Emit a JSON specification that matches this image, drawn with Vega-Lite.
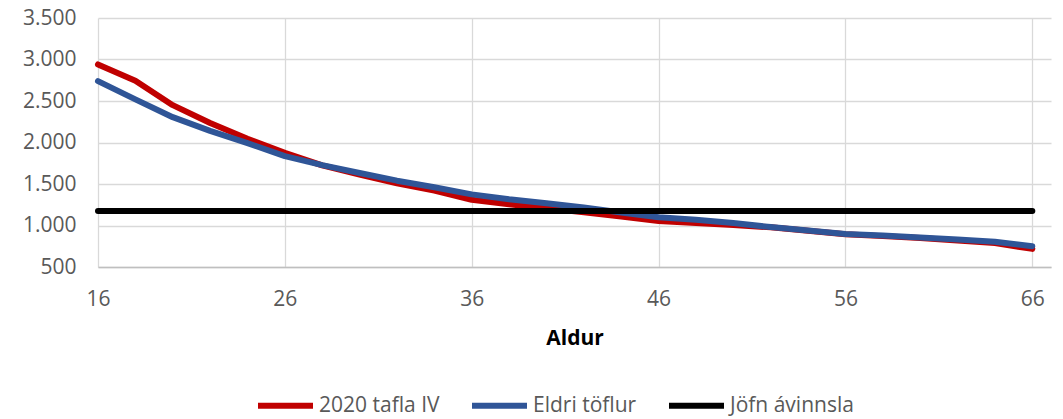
{
  "$schema": "https://vega.github.io/schema/vega-lite/v6.json",
  "width": 953,
  "height": 249,
  "autosize": {"type": "none"},
  "padding": {"left": 98, "top": 18, "right": 12, "bottom": 152},
  "background": "white",
  "config": {"view": {"stroke": null}, "font": "Open Sans"},
  "data": {
    "values": [
      {"Aldur": 16, "series": "2020 tafla IV", "value": 2940},
      {"Aldur": 18, "series": "2020 tafla IV", "value": 2745},
      {"Aldur": 20, "series": "2020 tafla IV", "value": 2450},
      {"Aldur": 22, "series": "2020 tafla IV", "value": 2235},
      {"Aldur": 24, "series": "2020 tafla IV", "value": 2045},
      {"Aldur": 26, "series": "2020 tafla IV", "value": 1875},
      {"Aldur": 28, "series": "2020 tafla IV", "value": 1725},
      {"Aldur": 30, "series": "2020 tafla IV", "value": 1612},
      {"Aldur": 32, "series": "2020 tafla IV", "value": 1508},
      {"Aldur": 34, "series": "2020 tafla IV", "value": 1420},
      {"Aldur": 36, "series": "2020 tafla IV", "value": 1310},
      {"Aldur": 38, "series": "2020 tafla IV", "value": 1256},
      {"Aldur": 40, "series": "2020 tafla IV", "value": 1208},
      {"Aldur": 42, "series": "2020 tafla IV", "value": 1160},
      {"Aldur": 44, "series": "2020 tafla IV", "value": 1108},
      {"Aldur": 46, "series": "2020 tafla IV", "value": 1055},
      {"Aldur": 48, "series": "2020 tafla IV", "value": 1029},
      {"Aldur": 50, "series": "2020 tafla IV", "value": 1005},
      {"Aldur": 52, "series": "2020 tafla IV", "value": 978},
      {"Aldur": 54, "series": "2020 tafla IV", "value": 938},
      {"Aldur": 56, "series": "2020 tafla IV", "value": 895},
      {"Aldur": 58, "series": "2020 tafla IV", "value": 872},
      {"Aldur": 60, "series": "2020 tafla IV", "value": 848},
      {"Aldur": 62, "series": "2020 tafla IV", "value": 820},
      {"Aldur": 64, "series": "2020 tafla IV", "value": 788},
      {"Aldur": 66, "series": "2020 tafla IV", "value": 718},
      {"Aldur": 16, "series": "Eldri töflur", "value": 2740},
      {"Aldur": 18, "series": "Eldri töflur", "value": 2520},
      {"Aldur": 20, "series": "Eldri töflur", "value": 2305},
      {"Aldur": 22, "series": "Eldri töflur", "value": 2140},
      {"Aldur": 24, "series": "Eldri töflur", "value": 1993},
      {"Aldur": 26, "series": "Eldri töflur", "value": 1835},
      {"Aldur": 28, "series": "Eldri töflur", "value": 1728},
      {"Aldur": 30, "series": "Eldri töflur", "value": 1632},
      {"Aldur": 32, "series": "Eldri töflur", "value": 1540},
      {"Aldur": 34, "series": "Eldri töflur", "value": 1460},
      {"Aldur": 36, "series": "Eldri töflur", "value": 1375},
      {"Aldur": 38, "series": "Eldri töflur", "value": 1316},
      {"Aldur": 40, "series": "Eldri töflur", "value": 1268},
      {"Aldur": 42, "series": "Eldri töflur", "value": 1216},
      {"Aldur": 44, "series": "Eldri töflur", "value": 1156},
      {"Aldur": 46, "series": "Eldri töflur", "value": 1100},
      {"Aldur": 48, "series": "Eldri töflur", "value": 1068},
      {"Aldur": 50, "series": "Eldri töflur", "value": 1029},
      {"Aldur": 52, "series": "Eldri töflur", "value": 981},
      {"Aldur": 54, "series": "Eldri töflur", "value": 940},
      {"Aldur": 56, "series": "Eldri töflur", "value": 898},
      {"Aldur": 58, "series": "Eldri töflur", "value": 880},
      {"Aldur": 60, "series": "Eldri töflur", "value": 856},
      {"Aldur": 62, "series": "Eldri töflur", "value": 832},
      {"Aldur": 64, "series": "Eldri töflur", "value": 804},
      {"Aldur": 66, "series": "Eldri töflur", "value": 750},
      {"Aldur": 16, "series": "Jöfn ávinnsla", "value": 1175},
      {"Aldur": 66, "series": "Jöfn ávinnsla", "value": 1175}
    ]
  },
  "mark": {"type": "line", "strokeCap": "round", "strokeJoin": "round"},
  "encoding": {
    "x": {
      "field": "Aldur",
      "type": "quantitative",
      "scale": {"domain": [16, 67], "nice": false, "zero": false},
      "axis": {
        "values": [16, 26, 36, 46, 56, 66],
        "title": "Aldur",
        "grid": true,
        "gridColor": "#d9d9d9",
        "gridWidth": 1.3,
        "domainColor": "#bfbfbf",
        "domainWidth": 1.5,
        "ticks": false,
        "labelFlush": false,
        "labelFont": "Open Sans",
        "labelFontSize": 21,
        "labelColor": "#595959",
        "labelPadding": 21,
        "titleFont": "Open Sans",
        "titleFontSize": 21,
        "titleFontWeight": "bold",
        "titleColor": "#000000",
        "titlePadding": 18
      }
    },
    "y": {
      "field": "value",
      "type": "quantitative",
      "scale": {"domain": [500, 3500], "nice": false, "zero": false},
      "axis": {
        "values": [500, 1000, 1500, 2000, 2500, 3000, 3500],
        "title": null,
        "domain": false,
        "ticks": false,
        "grid": true,
        "gridColor": "#d9d9d9",
        "gridWidth": 1.3,
        "labelFont": "Open Sans",
        "labelFontSize": 21,
        "labelColor": "#595959",
        "labelPadding": 22,
        "labelExpr": "replace(format(datum.value, ','), ',', '.')"
      }
    },
    "color": {
      "field": "series",
      "type": "nominal",
      "scale": {
        "domain": ["2020 tafla IV", "Eldri töflur", "Jöfn ávinnsla"],
        "range": ["#C00000", "#2F5597", "#000000"]
      },
      "legend": {
        "title": null,
        "orient": "none",
        "legendX": 157,
        "legendY": 357,
        "direction": "horizontal",
        "symbolType": "stroke",
        "symbolSize": 3025,
        "symbolStrokeWidth": 5,
        "labelFont": "Open Sans",
        "labelFontSize": 21,
        "labelColor": "#595959",
        "labelOffset": 3,
        "columnPadding": 20
      }
    },
    "strokeWidth": {
      "field": "series",
      "type": "nominal",
      "scale": {"domain": ["2020 tafla IV", "Eldri töflur", "Jöfn ávinnsla"], "range": [6, 6, 4]},
      "legend": null
    }
  }
}
